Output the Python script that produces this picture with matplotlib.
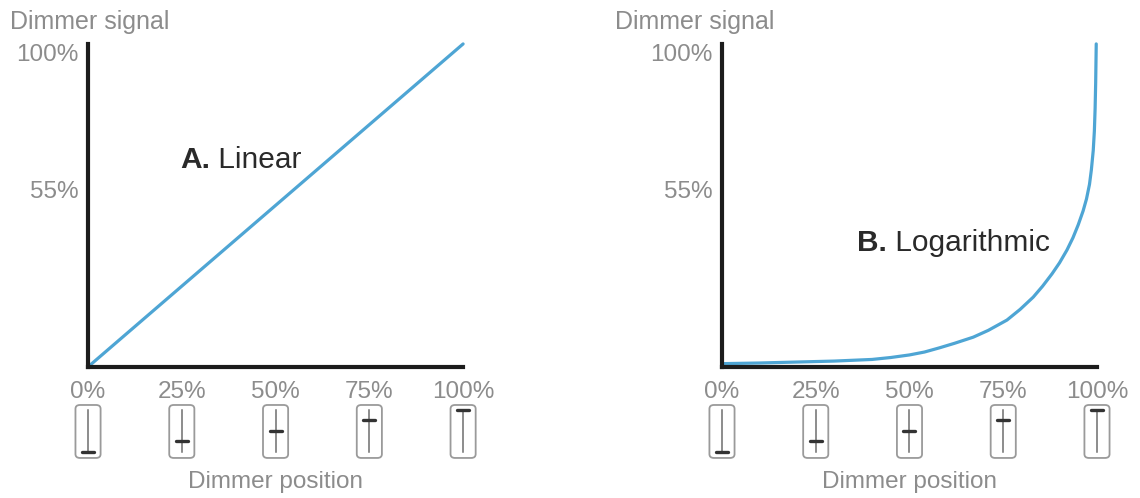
import matplotlib
matplotlib.use('Agg')
import matplotlib.pyplot as plt
from matplotlib.patches import FancyBboxPatch

plt.rcParams['font.family'] = ['Liberation Sans', 'DejaVu Sans']

# dimmer positions (x) and the signal for each curve (y), in %
positions = [0, 25, 50, 75, 100]
position_labels = ['0%', '25%', '50%', '75%', '100%']
signal_ticks = [55, 100]
signal_labels = ['55%', '100%']

linear_x = [0, 100]
linear_y = [0, 100]

log_x = [0, 10, 20, 30, 40, 45, 50, 54, 58, 62, 67, 71, 76, 79.5, 83, 85.5,
         88, 90, 92, 93.6, 95, 96.3, 97.2, 98, 98.5, 99, 99.3, 99.5, 99.65, 99.8]
log_y = [1, 1.2, 1.5, 1.8, 2.3, 2.9, 3.7, 4.6, 5.9, 7.3, 9.2, 11.3, 14.5, 17.8, 21.6, 25,
         28.8, 32.2, 36.2, 40, 44, 48.3, 52, 56.5, 61, 67, 73, 80, 88, 100]

LINE_COLOR = '#4ea5d4'
AXIS_COLOR = '#1c1c1c'
GRAY = '#8c8c8c'
DARK = '#2a2a2a'


def draw_slider(ax, x, level):
    # little fader icon under the x axis, knob at level (0..1)
    w, top, bottom = 6.7, -11.8, -28.2
    box = FancyBboxPatch((x - w / 2, bottom), w, top - bottom,
                         boxstyle='round,pad=0,rounding_size=1.2',
                         fc='white', ec='#9a9a9a', lw=1.3, clip_on=False)
    ax.add_patch(box)
    t0, t1 = -26.3, -13.3
    ax.plot([x, x], [t0, t1], color='#6e6e6e', lw=1.1, clip_on=False)
    ky = t0 + level * (t1 - t0)
    ax.plot([x - 1.6, x + 1.6], [ky, ky], color='#333333', lw=2.4,
            solid_capstyle='round', clip_on=False)


def setup_panel(ax, xlim, sig_label_x):
    ax.set_xlim(*xlim)
    ax.set_ylim(-40.6, 113.6)
    for s in ('top', 'right'):
        ax.spines[s].set_visible(False)
    for s in ('left', 'bottom'):
        ax.spines[s].set_position(('data', 0))
        ax.spines[s].set_bounds(0, 100)
        ax.spines[s].set_linewidth(3.0)
        ax.spines[s].set_color(AXIS_COLOR)
        ax.spines[s].set_capstyle('projecting')
    ax.set_xticks(positions, position_labels)
    ax.set_yticks(signal_ticks, signal_labels)
    ax.tick_params(axis='x', length=0, pad=10, labelsize=17.5, labelcolor=GRAY)
    ax.tick_params(axis='y', length=0, pad=7, labelsize=17.5, labelcolor=GRAY)
    for lbl in ax.get_yticklabels():
        if lbl.get_text() == '100%':
            lbl.set_va('top')
    ax.set_facecolor('none')
    ax.text(sig_label_x, 106.8, 'Dimmer signal', fontsize=18, color=GRAY,
            ha='left', va='center')
    ax.text(50, -35.8, 'Dimmer position', fontsize=17.5, color=GRAY,
            ha='center', va='center')
    for p in positions:
        draw_slider(ax, p, p / 100)


def title(ax, x, y, letter, word):
    t = ax.text(x, y, letter, fontsize=21.5, fontweight='bold', color=DARK,
                ha='left', va='center')
    ax.annotate(' ' + word, xy=(1, 0.5), xycoords=t, fontsize=21.5,
                color=DARK, ha='left', va='center')


fig = plt.figure(figsize=(11.4, 4.98), dpi=100)
ax1 = fig.add_axes([0, 0, 0.5, 1])
ax2 = fig.add_axes([0.5, 0, 0.5, 1])

setup_panel(ax1, (-23.47, 128.5), -20.8)
setup_panel(ax2, (-40.53, 111.47), -28.5)

ax1.plot(linear_x, linear_y, color=LINE_COLOR, lw=2.3, clip_on=False,
         solid_capstyle='round')
ax2.plot(log_x, log_y, color=LINE_COLOR, lw=2.3, clip_on=False,
         solid_capstyle='round', solid_joinstyle='round')

title(ax1, 24.5, 64, 'A.', 'Linear')
title(ax2, 36, 38.3, 'B.', 'Logarithmic')

fig.savefig('out.png', dpi=100)
